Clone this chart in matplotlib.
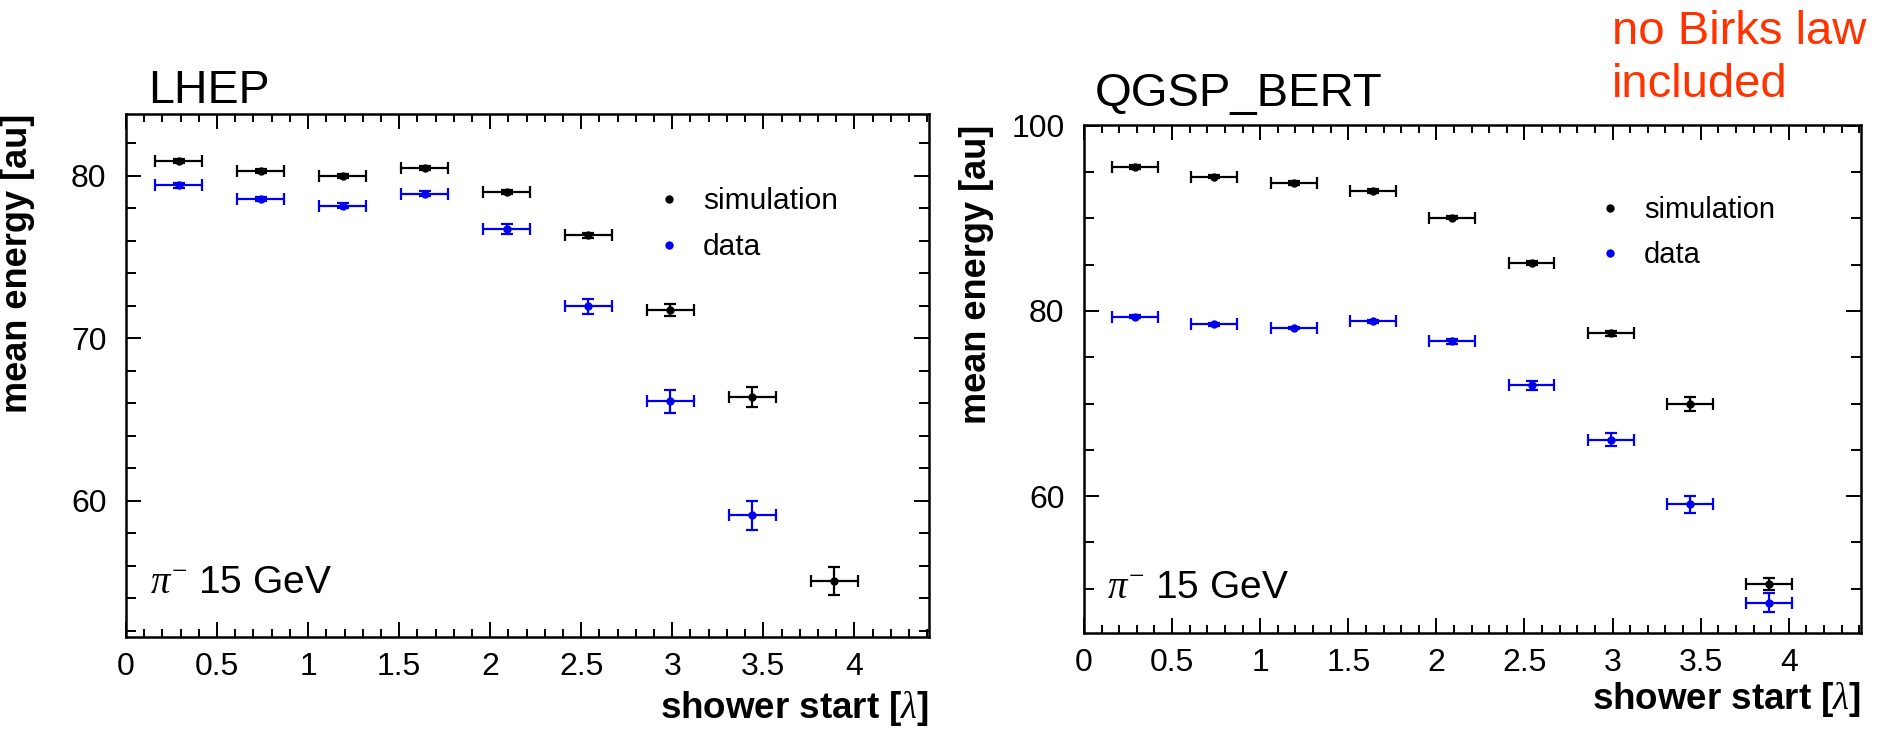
import matplotlib
matplotlib.use("Agg")
import matplotlib.pyplot as plt
from matplotlib.lines import Line2D
from matplotlib.ticker import MultipleLocator

plt.rcParams['font.family'] = ['Liberation Sans', 'DejaVu Sans']
plt.rcParams['mathtext.fontset'] = 'custom'
plt.rcParams['mathtext.rm'] = 'Liberation Serif'
plt.rcParams['mathtext.it'] = 'Liberation Serif:italic'

# shower start bins [lambda]
shower_start = [0.29, 0.74, 1.19, 1.64, 2.09, 2.54, 2.99, 3.44, 3.89]
x_halfwidth = [0.13] * 9

# measured data (same in both panels)
data_mean = [79.4, 78.57, 78.15, 78.9, 76.72, 71.95, 66.1, 59.1, 48.47]
data_err = [0.15, 0.15, 0.15, 0.15, 0.3, 0.45, 0.68, 0.9, 1.0]

# LHEP simulation
lhep_mean = [80.92, 80.27, 79.98, 80.45, 79.01, 76.32, 71.73, 66.4, 55.05]
lhep_err = [0.12, 0.12, 0.12, 0.12, 0.12, 0.15, 0.36, 0.62, 0.84]

# QGSP_BERT simulation
qgsp_mean = [95.54, 94.53, 93.8, 92.94, 90.1, 85.2, 77.59, 69.99, 50.53]
qgsp_err = [0.2, 0.2, 0.2, 0.2, 0.2, 0.2, 0.3, 0.75, 0.63]

W, H = 1884, 732
fig = plt.figure(figsize=(W / 100, H / 100), dpi=100)


def box(x0, x1, y0, y1):
    # pixel box -> figure fraction rect
    return [x0 / W, 1 - y1 / H, (x1 - x0) / W, (y1 - y0) / H]


ax1 = fig.add_axes(box(126, 929, 114, 637))
ax2 = fig.add_axes(box(1084, 1861, 125, 633))


def draw_panel(ax, sim, sim_err, ylim, ymajor, yminor):
    ax.errorbar(shower_start, sim, xerr=x_halfwidth, yerr=sim_err, fmt='o',
                color='black', ms=5, elinewidth=1.6, capsize=4, capthick=1.6)
    ax.errorbar(shower_start, data_mean, xerr=x_halfwidth, yerr=data_err, fmt='o',
                color='#0000ee', ms=5, elinewidth=1.6, capsize=4, capthick=1.6)
    ax.set_xlim(0, 4.41)
    ax.set_ylim(*ylim)
    ax.xaxis.set_major_locator(MultipleLocator(0.5))
    ax.xaxis.set_minor_locator(MultipleLocator(0.1))
    ax.yaxis.set_major_locator(MultipleLocator(ymajor))
    ax.yaxis.set_minor_locator(MultipleLocator(yminor))
    ax.xaxis.set_major_formatter(plt.FuncFormatter(lambda v, p: f"{v:g}"))
    ax.tick_params(which='both', direction='in', top=True, right=True,
                   labelsize=23, width=1.4)
    ax.tick_params(axis='x', which='major', length=11, pad=11)
    ax.tick_params(axis='x', which='minor', length=6)
    ax.tick_params(axis='y', which='major', length=11, pad=14)
    ax.tick_params(axis='y', which='minor', length=7)
    for s in ax.spines.values():
        s.set_linewidth(1.8)
    ax.set_xlabel(r'shower start [$\lambda$]', fontsize=26.5, fontweight='bold',
                  ha='right', va='top')
    ax.set_ylabel('mean energy [au]', fontsize=26, fontweight='bold',
                  ha='right', va='bottom')
    handles = [Line2D([], [], ls='none', marker='o', color='black', ms=5),
               Line2D([], [], ls='none', marker='o', color='#0000ee', ms=5)]
    return handles


h1 = draw_panel(ax1, lhep_mean, lhep_err, (51.6, 83.8), 10, 2)
h2 = draw_panel(ax2, qgsp_mean, qgsp_err, (45.2, 100.1), 20, 5)

ax1.xaxis.set_label_coords(1.0, -0.1)
ax1.yaxis.set_label_coords(-0.113, 1.0)
ax2.xaxis.set_label_coords(1.0, -0.093)
ax2.yaxis.set_label_coords(-0.116, 1.0)

ax1.legend(h1, ['simulation', 'data'], loc='upper left', bbox_to_anchor=(0.665, 0.86),
           frameon=False, fontsize=21.5, handlelength=0.6, handletextpad=0.84,
           labelspacing=0.61, borderpad=0, borderaxespad=0)
ax2.legend(h2, ['simulation', 'data'], loc='upper left', bbox_to_anchor=(0.666, 0.86),
           frameon=False, fontsize=21, handlelength=0.6, handletextpad=0.86,
           labelspacing=0.585, borderpad=0, borderaxespad=0)

ax1.text(0.027, 1.021, 'LHEP', transform=ax1.transAxes, fontsize=33.5, va='baseline')
ax2.text(0.014, 1.037, 'QGSP_BERT', transform=ax2.transAxes, fontsize=34, va='baseline')

ax1.text(0.03, 0.084, r'$\pi^{-}$ 15 GeV', transform=ax1.transAxes, fontsize=28, va='baseline')
ax2.text(0.029, 0.069, r'$\pi^{-}$ 15 GeV', transform=ax2.transAxes, fontsize=28, va='baseline')

fig.text(1612 / W, 1 - 44 / H, 'no Birks law', color='#ff3300', fontsize=34, va='baseline')
fig.text(1612 / W, 1 - 97 / H, 'included', color='#ff3300', fontsize=34, va='baseline')

fig.savefig('out.png', dpi=100)
